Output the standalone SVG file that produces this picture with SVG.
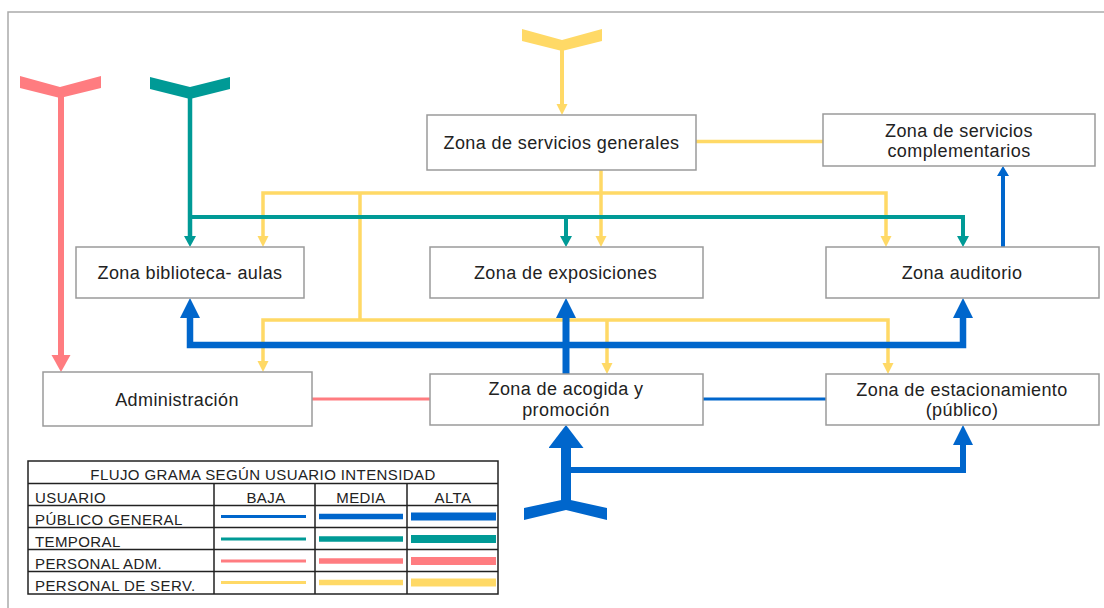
<svg xmlns="http://www.w3.org/2000/svg" width="1104" height="608" viewBox="0 0 1104 608">
<style>
.box{fill:#fff;stroke:#9a9a9a;stroke-width:1.5}
.lbl{font-family:"Liberation Sans",Arial,sans-serif;font-size:18px;letter-spacing:0.4px;fill:#222;text-anchor:middle}
.lg{font-family:"Liberation Sans",Arial,sans-serif;font-size:15px;letter-spacing:0.4px;fill:#222}
.mid{text-anchor:middle}
.c{fill:none;stroke-linejoin:miter}
.y{stroke:#FFD966}
.t{stroke:#009A96}
.s{stroke:#FF7C80}
.b{stroke:#0066CC}
.tb{fill:none;stroke:#222;stroke-width:1.5}
</style>
<defs>
<marker id="ay" markerUnits="userSpaceOnUse" markerWidth="12" markerHeight="12" refX="1" refY="5.5" orient="auto-start-reverse"><path d="M0,0 L11,5.5 L0,11 Z" fill="#FFD966"/></marker>
<marker id="at" markerUnits="userSpaceOnUse" markerWidth="12" markerHeight="13" refX="1" refY="6" orient="auto-start-reverse"><path d="M0,0 L11,6 L0,12 Z" fill="#009A96"/></marker>
<marker id="as" markerUnits="userSpaceOnUse" markerWidth="18" markerHeight="20" refX="1" refY="9.5" orient="auto-start-reverse"><path d="M0,0 L17,9.5 L0,19 Z" fill="#FF7C80"/></marker>
<marker id="ab1" markerUnits="userSpaceOnUse" markerWidth="11" markerHeight="13" refX="1" refY="6" orient="auto-start-reverse"><path d="M0,0 L10,6 L0,12 Z" fill="#0066CC"/></marker>
<marker id="ab2" markerUnits="userSpaceOnUse" markerWidth="21" markerHeight="21" refX="1" refY="10" orient="auto-start-reverse"><path d="M0,0 L20,10 L0,20 Z" fill="#0066CC"/></marker>
<marker id="ab3" markerUnits="userSpaceOnUse" markerWidth="24" markerHeight="36" refX="1" refY="17.5" orient="auto-start-reverse"><path d="M0,0 L23,17.5 L0,35 Z" fill="#0066CC"/></marker>
</defs>
<rect x="8" y="12" width="1110" height="610" fill="none" stroke="#aaaaaa" stroke-width="1.5"/>

<g id="connectors">
  <!-- personal de servicio (yellow) -->
  <polygon points="522,29 562,40 602,29 602,41 562,51 522,41" fill="#FFD966"/>
  <path class="c y" stroke-width="4" d="M562,49 V105" marker-end="url(#ay)"/>
  <path class="c y" stroke-width="3.5" d="M696,141.5 H823"/>
  <path class="c y" stroke-width="3.5" d="M601,170 V237" marker-end="url(#ay)"/>
  <path class="c y" stroke-width="3.5" d="M263,237 V193 H886 V237" marker-start="url(#ay)" marker-end="url(#ay)"/>
  <path class="c y" stroke-width="3.5" d="M360,193 V320"/>
  <path class="c y" stroke-width="3.5" d="M263,362 V320 H888 V364" marker-start="url(#ay)" marker-end="url(#ay)"/>
  <path class="c y" stroke-width="3.5" d="M607,320 V364" marker-end="url(#ay)"/>
  <!-- temporal (teal) -->
  <polygon points="150,77 190,87 230,77 230,89 190,99 150,89" fill="#009A96"/>
  <path class="c t" stroke-width="4.5" d="M190,97 V237" marker-end="url(#at)"/>
  <path class="c t" stroke-width="4" d="M190,217 H963 V237" marker-end="url(#at)"/>
  <path class="c t" stroke-width="4" d="M566,217 V237" marker-end="url(#at)"/>
  <!-- personal administrativo (salmon) -->
  <polygon points="20,76 60,87 101,76 101,88 60,98 20,88" fill="#FF7C80"/>
  <path class="c s" stroke-width="6" d="M61,97 V356" marker-end="url(#as)"/>
  <path class="c s" stroke-width="3" d="M312,399 H430"/>
  <!-- publico general (blue) -->
  <polygon points="524,508 566,499 607,508 607,520 566,510 524,520" fill="#0066CC"/>
  <path class="c b" stroke-width="10" d="M566,506 V447" marker-end="url(#ab3)"/>
  <path class="c b" stroke-width="6" d="M566,470 H963 V444" marker-end="url(#ab2)"/>
  <path class="c b" stroke-width="7" d="M566,374 V317" marker-end="url(#ab2)"/>
  <path class="c b" stroke-width="6.5" d="M190,317 V345 H963 V317" marker-start="url(#ab2)" marker-end="url(#ab2)"/>
  <path class="c b" stroke-width="4" d="M1003,247 V175" marker-end="url(#ab1)"/>
  <path class="c b" stroke-width="3" d="M703,399 H826"/>
</g>

<g id="servicios-generales">
  <rect class="box" x="427" y="115" width="269" height="55"/>
  <text class="lbl" x="561.5" y="149">Zona de servicios generales</text>
</g>
<g id="servicios-complementarios">
  <rect class="box" x="823" y="114" width="272" height="52"/>
  <text class="lbl" x="959" y="136.5">Zona de servicios</text>
  <text class="lbl" x="959" y="157">complementarios</text>
</g>
<g id="biblioteca-aulas">
  <rect class="box" x="76" y="247" width="228" height="51"/>
  <text class="lbl" x="190" y="279">Zona biblioteca- aulas</text>
</g>
<g id="exposiciones">
  <rect class="box" x="430" y="247" width="273" height="51"/>
  <text class="lbl" x="565.5" y="279">Zona de exposiciones</text>
</g>
<g id="auditorio">
  <rect class="box" x="826" y="247" width="273" height="51"/>
  <text class="lbl" x="962" y="278.5">Zona auditorio</text>
</g>
<g id="administracion">
  <rect class="box" x="43" y="372" width="269" height="54"/>
  <text class="lbl" x="177" y="406">Administración</text>
</g>
<g id="acogida-promocion">
  <rect class="box" x="430" y="374" width="273" height="51"/>
  <text class="lbl" x="566" y="395">Zona de acogida y</text>
  <text class="lbl" x="566" y="416">promoción</text>
</g>
<g id="estacionamiento">
  <rect class="box" x="826" y="374" width="273" height="51"/>
  <text class="lbl" x="962" y="395.5">Zona de estacionamiento</text>
  <text class="lbl" x="962" y="416">(público)</text>
</g>

<g id="legend">
  <rect class="tb" x="28" y="461" width="470" height="133"/>
  <path class="tb" d="M28,483.5 H498 M28,505.5 H498 M28,527.5 H498 M28,549.5 H498 M28,571.5 H498 M214,483.5 V594 M315,483.5 V594 M407,483.5 V594"/>
  <text class="lg mid" x="263" y="480">FLUJO GRAMA SEGÚN USUARIO INTENSIDAD</text>
  <text class="lg" x="35" y="503">USUARIO</text>
  <text class="lg mid" x="266" y="503">BAJA</text>
  <text class="lg mid" x="361" y="503">MEDIA</text>
  <text class="lg mid" x="453" y="503">ALTA</text>
  <text class="lg" x="35" y="525">PÚBLICO GENERAL</text>
  <text class="lg" x="35" y="547">TEMPORAL</text>
  <text class="lg" x="35" y="569">PERSONAL ADM.</text>
  <text class="lg" x="35" y="591">PERSONAL DE SERV.</text>
  <path class="b" stroke-width="3" d="M221,516.5 H306"/>
  <path class="b" stroke-width="5.5" d="M319,516.5 H403"/>
  <path class="b" stroke-width="8" d="M411,516.5 H496"/>
  <path class="t" stroke-width="3" d="M221,539 H306"/>
  <path class="t" stroke-width="5.5" d="M319,539 H403"/>
  <path class="t" stroke-width="8" d="M411,539 H496"/>
  <path class="s" stroke-width="3" d="M221,561 H306"/>
  <path class="s" stroke-width="5.5" d="M319,561 H403"/>
  <path class="s" stroke-width="8" d="M411,561 H496"/>
  <path class="y" stroke-width="3" d="M221,582.5 H306"/>
  <path class="y" stroke-width="5.5" d="M319,582.5 H403"/>
  <path class="y" stroke-width="8" d="M411,582.5 H496"/>
</g>
</svg>
